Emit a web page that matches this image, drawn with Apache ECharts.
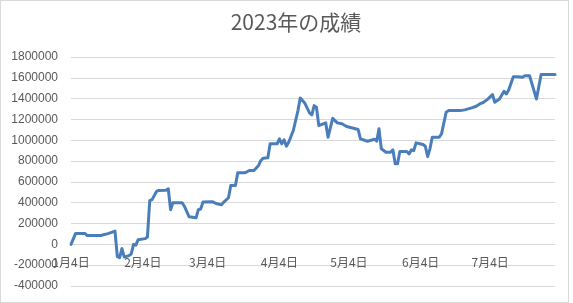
<!DOCTYPE html>
<html>
<head>
<meta charset="utf-8">
<script src="https://cdn.jsdelivr.net/npm/echarts@6/dist/echarts.min.js"></script>
<style>
  html, body { margin: 0; padding: 0; background: #ffffff; }
  #wrap { position: relative; width: 573px; height: 303px; }
  #frame { position: absolute; left: 0; top: 0; width: 567px; height: 301px; border: 1px solid #d9d9d9; box-sizing: content-box; }
  #chart { position: absolute; left: 0; top: 0; width: 573px; height: 303px; }
</style>
</head>
<body>
<div id="wrap"><div id="frame"></div><div id="chart"></div></div>
<script>
const dates = [
  '2023-01-04','2023-01-06','2023-01-10','2023-01-11','2023-01-17','2023-01-18','2023-01-20','2023-01-23',
  '2023-01-24','2023-01-25','2023-01-26','2023-01-27','2023-01-29','2023-01-30','2023-01-31','2023-02-01',
  '2023-02-02','2023-02-05','2023-02-06','2023-02-07','2023-02-08','2023-02-10','2023-02-11','2023-02-14',
  '2023-02-15','2023-02-16','2023-02-17','2023-02-21','2023-02-22','2023-02-24','2023-02-27','2023-02-28',
  '2023-03-01','2023-03-02','2023-03-06','2023-03-08','2023-03-10','2023-03-11','2023-03-13','2023-03-14',
  '2023-03-16','2023-03-17','2023-03-20','2023-03-21','2023-03-22','2023-03-24','2023-03-26','2023-03-27',
  '2023-03-28','2023-03-30','2023-03-31','2023-04-03','2023-04-04','2023-04-05','2023-04-06','2023-04-07',
  '2023-04-08','2023-04-10','2023-04-12','2023-04-13','2023-04-15','2023-04-17','2023-04-18','2023-04-19',
  '2023-04-20','2023-04-21','2023-04-24','2023-04-25','2023-04-27','2023-04-29','2023-05-01','2023-05-03',
  '2023-05-08','2023-05-09','2023-05-12','2023-05-14','2023-05-15','2023-05-16','2023-05-17','2023-05-18',
  '2023-05-20','2023-05-22','2023-05-23','2023-05-24','2023-05-25','2023-05-26','2023-05-29','2023-05-30',
  '2023-05-31','2023-06-01','2023-06-02','2023-06-05','2023-06-06','2023-06-07','2023-06-08','2023-06-09',
  '2023-06-12','2023-06-13','2023-06-15','2023-06-16','2023-06-21','2023-06-23','2023-06-26','2023-06-28',
  '2023-06-30','2023-07-01','2023-07-03','2023-07-05','2023-07-06','2023-07-08','2023-07-10','2023-07-11',
  '2023-07-12','2023-07-14','2023-07-16','2023-07-18','2023-07-19','2023-07-21','2023-07-24','2023-07-26',
  '2023-08-01'
];
const values = [
  0, 105000, 105000, 85000, 85000, 93000, 103000, 128000,
  -118000, -128000, -41000, -122000, -108000, -92000, 0, -8000,
  45000, 55000, 70000, 420000, 430000, 510000, 518000, 520000,
  534000, 333000, 400000, 400000, 364000, 265000, 255000, 333000,
  340000, 406000, 410000, 390000, 381000, 406000, 448000, 566000,
  566000, 688000, 688000, 697000, 710000, 710000, 758000, 806000,
  828000, 832000, 966000, 966000, 1014000, 966000, 1005000, 943000,
  981000, 1094000, 1285000, 1407000, 1355000, 1263000, 1244000, 1333000,
  1317000, 1141000, 1167000, 1029000, 1211000, 1167000, 1158000, 1132000,
  1103000, 1014000, 991000, 1003000, 1010000, 991000, 1110000, 918000,
  885000, 885000, 908000, 774000, 774000, 892000, 892000, 868000,
  908000, 900000, 975000, 960000, 943000, 844000, 918000, 1029000,
  1029000, 1062000, 1269000, 1285000, 1285000, 1292000, 1311000, 1327000,
  1355000, 1363000, 1395000, 1440000, 1365000, 1397000, 1471000, 1445000,
  1484000, 1611000, 1611000, 1605000, 1621000, 1621000, 1397000, 1631000,
  1631000
];
const tickDates = ['2023-01-04','2023-02-04','2023-03-04','2023-04-04','2023-05-04','2023-06-04','2023-07-04'];
const tickLabels = ['1月4日','2月4日','3月4日','4月4日','5月4日','6月4日','7月4日'];
const startDate = '2023-01-04';
const endDate = '2023-08-01';
const titleText = '2023年の成績';
const yMin = -400000;
const yMax = 1800000;
const yStep = 200000;

const DAY = 86400000;
function toDay(s) {
  const p = s.split('-').map(Number);
  const q = startDate.split('-').map(Number);
  return Math.round((Date.UTC(p[0], p[1] - 1, p[2]) - Date.UTC(q[0], q[1] - 1, q[2])) / DAY);
}
const tickDays = tickDates.map(toDay);
const seriesData = dates.map((d, i) => [toDay(d), values[i]]);

const gridTop = 57, gridBottom = 17, chartH = 303;
const plotH = chartH - gridTop - gridBottom;
const zeroFromBottom = plotH * (0 - yMin) / (yMax - yMin);

const chart = echarts.init(document.getElementById('chart'), null, { renderer: 'canvas' });
chart.setOption({
  animation: false,
  backgroundColor: 'transparent',
  title: {
    text: titleText,
    left: 291,
    textAlign: 'center',
    top: 7,
    textStyle: { fontSize: 21, fontWeight: 'normal', color: '#595959', fontFamily: "'Noto Sans CJK JP', sans-serif" }
  },
  grid: { left: 71, right: 18, top: gridTop, bottom: gridBottom, containLabel: false, outerBoundsMode: 'none' },
  xAxis: {
    type: 'value',
    min: 0,
    max: toDay(endDate),
    offset: -zeroFromBottom,
    axisLine: { show: false, onZero: false },
    axisTick: { show: false },
    splitLine: { show: false },
    axisLabel: {
      customValues: tickDays,
      margin: 12,
      fontSize: 12,
      color: '#595959',
      fontFamily: "'Noto Sans CJK JP', sans-serif",
      hideOverlap: false,
      formatter: function (v) {
        const i = tickDays.indexOf(Math.round(v));
        return i >= 0 ? tickLabels[i] : '';
      }
    }
  },
  yAxis: {
    type: 'value',
    min: yMin,
    max: yMax,
    interval: yStep,
    axisLine: { show: false, onZero: false },
    axisTick: { show: false },
    splitLine: { show: true, lineStyle: { color: '#d9d9d9', width: 1 } },
    axisLabel: {
      margin: 13,
      fontSize: 12,
      color: '#595959',
      fontFamily: "'Liberation Sans', sans-serif",
      formatter: function (v) { return String(v); }
    }
  },
  series: [{
    type: 'line',
    data: seriesData,
    showSymbol: false,
    symbol: 'none',
    lineStyle: { color: '#4a7ebb', width: 3, join: 'round', cap: 'round' },
    itemStyle: { color: '#4a7ebb' }
  }]
});
</script>
</body>
</html>
